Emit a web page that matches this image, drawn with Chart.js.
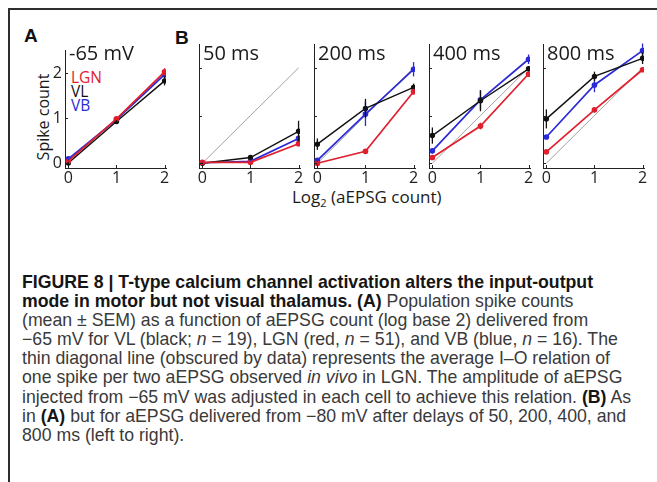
<!DOCTYPE html>
<html>
<head>
<meta charset="utf-8">
<script src="https://cdn.jsdelivr.net/npm/chart.js@4/dist/chart.umd.min.js"></script>
<style>
  body { margin: 0; background: #fff; }
  #page { position: relative; width: 657px; height: 482px; overflow: hidden; background: #fff; }
  #frame { position: absolute; left: 8px; top: 8px; width: 700px; height: 500px;
           border-left: 2px solid #2e2e2e; border-top: 2px solid #2e2e2e; }
  .panel { position: absolute; }
  .txt { position: absolute; font-family: "Open Sans", sans-serif; color: #1a1a1a; white-space: nowrap; }
  .letter { position: absolute; font-family: "Liberation Sans", Arial, sans-serif; font-weight: bold; font-size: 19px; line-height: 19px; color: #111; }
  .ptitle { font-size: 20px; line-height: 20px; }
  .leg { font-size: 15.5px; line-height: 14.2px; left: 71px; top: 70px; }
  sub { font-size: 11px; vertical-align: -4px; line-height: 0; }
  #caption { position: absolute; left: 22px; top: 273px; font-family: "Liberation Sans", Arial, sans-serif;
             font-size: 17.7px; line-height: 19.1px; color: #3a3a3a; white-space: nowrap; }
  #caption b { color: #151515; }
</style>
</head>
<body>
<div id="page">
  <div id="frame"></div>
  <div class="letter" style="left:24px; top:26px;">A</div>
  <div class="letter" style="left:175px; top:28px;">B</div>

  <div class="txt" style="left:-2px; top:109px; width:90px; text-align:center; font-size:16px; line-height:16px; transform: rotate(-90deg);">Spike count</div>
  <div class="txt leg"><span style="color:#e0202e">LGN</span><br><span style="color:#111">VL</span><br><span style="color:#2a2ad8">VB</span></div>
  <div class="txt" style="left:292px; top:188px; font-size:17px; line-height:17px;">Log<sub>2</sub> (aEPSG count)</div>

  <div class="panel" id="p0"><canvas id="c0"></canvas></div>
  <div class="panel" id="p1"><canvas id="c1"></canvas></div>
  <div class="panel" id="p2"><canvas id="c2"></canvas></div>
  <div class="panel" id="p3"><canvas id="c3"></canvas></div>
  <div class="panel" id="p4"><canvas id="c4"></canvas></div>

  <div id="caption">
    <b>FIGURE 8 | T-type calcium channel activation alters the input-output</b><br>
    <b>mode in motor but not visual thalamus. (A)</b> Population spike counts<br>
    (mean ± SEM) as a function of aEPSG count (log base 2) delivered from<br>
    −65 mV for VL (black; <i>n</i> = 19), LGN (red, <i>n</i> = 51), and VB (blue, <i>n</i> = 16). The<br>
    thin diagonal line (obscured by data) represents the average I–O relation of<br>
    one spike per two aEPSG observed <i>in vivo</i> in LGN. The amplitude of aEPSG<br>
    injected from −65 mV was adjusted in each cell to achieve this relation. <b>(B)</b> As<br>
    in <b>(A)</b> but for aEPSG delivered from −80 mV after delays of 50, 200, 400, and<br>
    800 ms (left to right).
  </div>
</div>

<script>
// x values: log2 of aEPSG count
const levels = [0, 1, 2];
const panelTitles = ['-65 mV', '50 ms', '200 ms', '400 ms', '800 ms'];
// one spike per two aEPSG reference line
const unityLine = [0, 1, 2];

// mean spike counts, one row per panel (A, then B 50/200/400/800 ms)
const vlMean  = [[0.01, 0.93, 1.83], [0.00, 0.12, 0.67], [0.40, 1.15, 1.59], [0.58, 1.31, 1.98], [0.93, 1.82, 2.20]];
const lgnMean = [[0.05, 0.99, 2.03], [0.02, 0.02, 0.41], [0.00, 0.25, 1.50], [0.12, 0.78, 1.87], [0.24, 1.12, 1.96]];
const vbMean  = [[0.10, 0.97, 1.97], [0.01, 0.04, 0.52], [0.06, 1.03, 1.97], [0.26, 1.33, 2.18], [0.55, 1.64, 2.36]];
// SEM
const vlErr  = [[0.03, 0.04, 0.10], [0.02, 0.05, 0.22], [0.12, 0.20, 0.08], [0.17, 0.22, 0.06], [0.20, 0.10, 0.12]];
const lgnErr = [[0.02, 0.03, 0.08], [0.01, 0.02, 0.05], [0.01, 0.03, 0.06], [0.03, 0.07, 0.05], [0.03, 0.04, 0.03]];
const vbErr  = [[0.04, 0.04, 0.08], [0.02, 0.03, 0.06], [0.04, 0.25, 0.15], [0.05, 0.20, 0.10], [0.04, 0.15, 0.15]];

const RED = '#e0202e', BLACK = '#111111', BLUE = '#2a2ad8', GREY = '#8c8c8c';

// layout of each panel (chart area left edge, px in page)
const areaLeft = [65, 199, 314, 429, 543];
const areaTop = 44, areaH = 124, areaW = 100.8;
const padTop = 6, padRight = 10, xAxisH = 24;

function pts(vals) {
  return vals.map((v, j) => ({x: levels[j], y: v}));
}

// vertical SEM bars
const errorBars = {
  id: 'errorBars',
  afterDatasetsDraw(chart) {
    const ctx = chart.ctx, xs = chart.scales.x, ys = chart.scales.y;
    chart.data.datasets.forEach(ds => {
      if (!ds.errors) return;
      ctx.save();
      ctx.strokeStyle = ds.borderColor;
      ctx.lineWidth = 1.3;
      ds.data.forEach((p, j) => {
        const e = ds.errors[j];
        const px = xs.getPixelForValue(p.x);
        ctx.beginPath();
        ctx.moveTo(px, ys.getPixelForValue(p.y - e));
        ctx.lineTo(px, ys.getPixelForValue(p.y + e));
        ctx.stroke();
      });
      ctx.restore();
    });
  }
};

// matlab style inward ticks
const innerTicks = {
  id: 'innerTicks',
  afterDraw(chart) {
    const ctx = chart.ctx, a = chart.chartArea, xs = chart.scales.x, ys = chart.scales.y;
    ctx.save();
    ctx.strokeStyle = '#222';
    ctx.lineWidth = 1;
    ctx.beginPath();
    xs.ticks.forEach(t => {
      const p = Math.round(xs.getPixelForValue(t.value)) + 0.5;
      ctx.moveTo(p, a.bottom); ctx.lineTo(p, a.bottom - 3);
    });
    ys.ticks.forEach(t => {
      const p = Math.round(ys.getPixelForValue(t.value)) + 0.5;
      ctx.moveTo(a.left, p); ctx.lineTo(a.left + 3, p);
    });
    ctx.stroke();
    ctx.restore();
  }
};

Chart.defaults.font.family = '"Open Sans", sans-serif';

function makePanel(i) {
  const yW = i == 0 ? 30 : 10;
  const w = Math.round(yW + areaW + padRight);
  const h = padTop + areaH + xAxisH;
  const holder = document.getElementById('p' + i);
  holder.style.left = (areaLeft[i] - yW) + 'px';
  holder.style.top = (areaTop - padTop) + 'px';
  const cv = document.getElementById('c' + i);
  cv.width = w; cv.height = h;
  cv.style.width = w + 'px'; cv.style.height = h + 'px';

  // panel title
  const t = document.createElement('div');
  t.className = 'txt ptitle';
  t.textContent = panelTitles[i];
  t.style.left = (areaLeft[i] + 4) + 'px';
  t.style.top = '43px';
  document.getElementById('page').appendChild(t);

  new Chart(cv, {
    type: 'line',
    data: {
      datasets: [
        {data: pts(unityLine), borderColor: GREY, borderWidth: 0.8, pointRadius: 0, order: 10},
        {data: pts(vbMean[i]), errors: vbErr[i], borderColor: BLUE, backgroundColor: BLUE, borderWidth: 1.7, pointRadius: 2, order: 3},
        {data: pts(vlMean[i]), errors: vlErr[i], borderColor: BLACK, backgroundColor: BLACK, borderWidth: 1.4, pointRadius: 2, order: 2},
        {data: pts(lgnMean[i]), errors: lgnErr[i], borderColor: RED, backgroundColor: RED, borderWidth: 1.7, pointRadius: 2, order: 1}
      ]
    },
    options: {
      responsive: false,
      animation: false,
      devicePixelRatio: 1,
      layout: {padding: {top: padTop, right: padRight, left: 0, bottom: 0}},
      plugins: {legend: {display: false}, tooltip: {enabled: false}},
      elements: {line: {tension: 0}, point: {borderWidth: 0}},
      scales: {
        x: {
          type: 'linear', min: -0.07, max: 2.03,
          ticks: {stepSize: 1, includeBounds: false, padding: 1, color: '#222', font: {size: 16}},
          grid: {display: true, drawOnChartArea: false, drawTicks: false},
          border: {color: '#222', width: 1},
          afterFit: s => { s.height = xAxisH; }
        },
        y: {
          type: 'linear', min: -0.1, max: 2.5,
          ticks: {stepSize: 1, includeBounds: false, padding: 3, display: i == 0, color: '#222', font: {size: 16}},
          grid: {display: true, drawOnChartArea: false, drawTicks: false},
          border: {color: '#222', width: 1},
          afterFit: s => { s.width = yW; }
        }
      }
    },
    plugins: [errorBars, innerTicks]
  });
}

for (let i = 0; i < 5; i++) makePanel(i);
</script>
</body>
</html>
